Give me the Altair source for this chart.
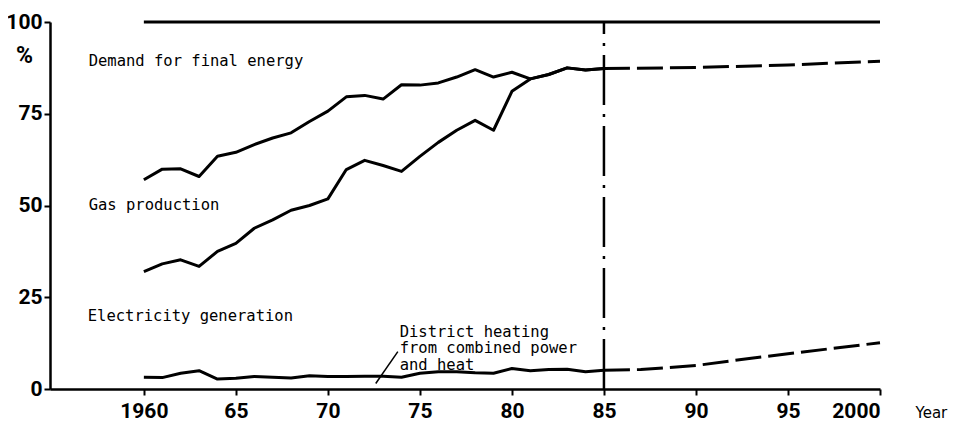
import altair as alt
import pandas as pd

# ---- data ----
years_hist = list(range(1960, 1986))
demand_hist = [57.0, 59.9, 60.0, 57.9, 63.4, 64.5, 66.6, 68.4, 69.8, 72.9,
               75.7, 79.6, 80.0, 79.0, 82.9, 82.8, 83.4, 85.0, 87.0, 85.0,
               86.3, 84.5, 85.7, 87.5, 86.9, 87.3]
gas_hist = [32.0, 34.1, 35.2, 33.4, 37.5, 39.7, 43.8, 46.1, 48.7, 50.0,
            51.8, 59.8, 62.3, 60.9, 59.3, 63.4, 67.2, 70.5, 73.2, 70.5,
            81.1, 84.5, 85.7, 87.5, 86.9, 87.3]
elec_hist = [3.2, 3.1, 4.3, 5.0, 2.7, 2.9, 3.4, 3.2, 3.0, 3.6,
             3.4, 3.4, 3.5, 3.5, 3.2, 4.3, 4.7, 4.7, 4.4, 4.3,
             5.6, 5.0, 5.3, 5.4, 4.7, 5.1]

demand_proj_years = [1985, 1990, 1995, 2000]
demand_proj = [87.3, 87.6, 88.3, 89.3]
elec_proj_years = [1985, 1987, 1990, 1993, 1995, 2000]
elec_proj = [5.1, 5.3, 6.4, 8.4, 9.6, 12.6]

total_years = [1960, 2000]
total_values = [100, 100]

divider_year = 1985

x_ticks = [1960, 1965, 1970, 1975, 1980, 1985, 1990, 1995, 2000]
x_tick_labels = ["1960", "65", "70", "75", "80", "85", "90", "95", "2000"]
y_ticks = [0, 25, 50, 75, 100]

label_texts = ["Demand for final energy", "Gas production", "Electricity generation",
               "District heating\nfrom combined power\nand heat"]
label_x = [1957.0, 1957.0, 1956.95, 1973.9]
label_y = [89.5, 50.2, 19.8, 15.6]

leader_x = [1972.6, 1973.8]
leader_y = [1.5, 10.2]

# ---- tables ----
hist = pd.concat([
    pd.DataFrame({"year": years_hist, "value": demand_hist, "series": "demand"}),
    pd.DataFrame({"year": years_hist, "value": gas_hist, "series": "gas"}),
    pd.DataFrame({"year": years_hist, "value": elec_hist, "series": "elec"}),
    pd.DataFrame({"year": total_years, "value": total_values, "series": "total"}),
])
proj = pd.concat([
    pd.DataFrame({"year": demand_proj_years, "value": demand_proj, "series": "demand"}),
    pd.DataFrame({"year": elec_proj_years, "value": elec_proj, "series": "elec"}),
])
labels = pd.DataFrame({"x": label_x, "y": label_y, "text": label_texts})
leader = pd.DataFrame({"x": [leader_x[0]], "x2": [leader_x[1]],
                       "y": [leader_y[0]], "y2": [leader_y[1]]})
divider = pd.DataFrame({"x": [divider_year], "y": [0], "y2": [100]})

label_expr = " : ".join(
    f"datum.value == {v} ? '{t}'" for v, t in zip(x_ticks, x_tick_labels)
) + " : ''"

num_font = "Roboto"

x_scale = alt.Scale(domain=[1954.9, 2000], nice=False, zero=False)
y_scale = alt.Scale(domain=[0, 100], nice=False)

x_axis = alt.Axis(values=x_ticks, labelExpr=label_expr, title="Year",
                  titleX=865, titleY=23, titleAlign="left", titleBaseline="middle",
                  titleFont="DejaVu Sans", titleFontSize=15, titleFontWeight="normal",
                  labelFont=num_font, labelFontSize=21, labelFontWeight="bold",
                  tickSize=6, labelPadding=5, grid=False)
y_axis = alt.Axis(values=y_ticks, title="%", titleAngle=0, titleX=-26, titleY=33,
                  titleAlign="center", titleBaseline="middle",
                  titleFont=num_font, titleFontSize=23, titleFontWeight="bold",
                  labelFont=num_font, labelFontSize=21, labelFontWeight="bold",
                  tickSize=6, labelPadding=2, grid=False)

X = alt.X("year:Q", scale=x_scale, axis=x_axis)
Y = alt.Y("value:Q", scale=y_scale, axis=y_axis)

hist_layer = alt.Chart(hist).mark_line(color="black", strokeWidth=3, strokeJoin="round").encode(
    x=X, y=Y, detail="series:N"
)
proj_layer = alt.Chart(proj).mark_line(color="black", strokeWidth=3, strokeDash=[26, 7]).encode(
    x=alt.X("year:Q", scale=x_scale), y=alt.Y("value:Q", scale=y_scale), detail="series:N"
)
divider_layer = alt.Chart(divider).mark_rule(color="black", strokeWidth=2.5,
                                             strokeDash=[50, 9, 3, 9]).encode(
    x=alt.X("x:Q", scale=x_scale), y=alt.Y("y:Q", scale=y_scale), y2="y2:Q"
)
leader_layer = alt.Chart(leader).mark_rule(color="black", strokeWidth=1.5).encode(
    x=alt.X("x:Q", scale=x_scale), x2="x2:Q",
    y=alt.Y("y:Q", scale=y_scale), y2="y2:Q"
)
text_layer = alt.Chart(labels).mark_text(
    align="left", baseline="middle", font="DejaVu Sans Mono", fontSize=15.5,
    lineBreak="\n", lineHeight=16.5, color="black"
).encode(
    x=alt.X("x:Q", scale=x_scale), y=alt.Y("y:Q", scale=y_scale), text="text:N"
)

chart = alt.layer(hist_layer, proj_layer, divider_layer, leader_layer, text_layer).properties(
    width=830, height=367,
    autosize=alt.AutoSizeParams(type="none"),
    padding={"left": 42, "top": 14, "right": 71, "bottom": 36},
).configure_axis(
    domainColor="black", domainWidth=2.5, tickColor="black", tickWidth=2,
    labelColor="black", titleColor="black",
).configure_view(stroke=None)

chart.save("out.html", embed_options={"renderer": "svg", "actions": False})
